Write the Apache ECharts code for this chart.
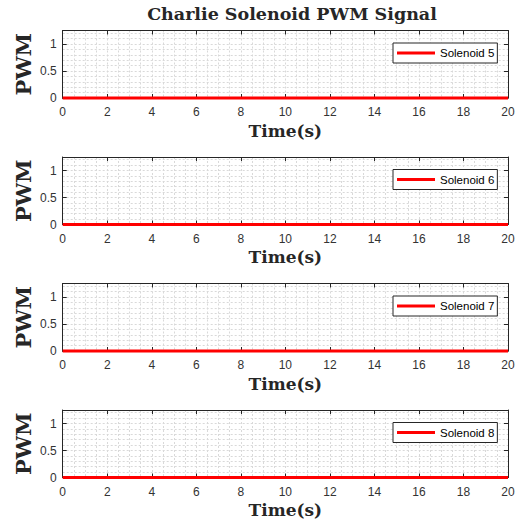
<!DOCTYPE html>
<html>
<head>
<meta charset="utf-8">
<script src="https://cdn.jsdelivr.net/npm/echarts@6/dist/echarts.min.js"></script>
<style>
html,body{margin:0;padding:0;background:#fff;}
#chart{width:519px;height:525px;}
</style>
</head>
<body>
<div id="chart"></div>
<script>
// ---- data ----
const chartTitle = 'Charlie Solenoid PWM Signal';
const xLabel = 'Time(s)';
const yLabel = 'PWM';
const seriesNames = ['Solenoid 5', 'Solenoid 6', 'Solenoid 7', 'Solenoid 8'];
const time = [0, 20];
const solenoid5 = [0, 0];
const solenoid6 = [0, 0];
const solenoid7 = [0, 0];
const solenoid8 = [0, 0];
const seriesValues = [solenoid5, solenoid6, solenoid7, solenoid8];
const xTicks = [0, 2, 4, 6, 8, 10, 12, 14, 16, 18, 20];
const yTicks = [0, 0.5, 1];

// ---- layout / style ----
const panelTops = [30.5, 157, 283.5, 410];
const panelH = 67.5;
const gLeft = 62.7, gRight = 11;
const axisColor = '#262626';
const tickColor = '#333333';
const gridColor = '#d9d9d9';
const serifFont = 'DejaVu Serif';
const sansFont = 'Liberation Sans';

const grids = [], xAxes = [], yAxes = [], series = [], legends = [];
panelTops.forEach((top, i) => {
  grids.push({left: gLeft, right: gRight, top: top, height: panelH});
  const xBase = xAxes.length, yBase = yAxes.length;
  xAxes.push({
    type: 'value', gridIndex: i, position: 'bottom', min: xTicks[0], max: xTicks[xTicks.length-1], interval: 2,
    axisLine: {show: true, onZero: false, lineStyle: {color: axisColor, width: 1}},
    axisTick: {show: true, inside: true, length: 4, lineStyle: {color: axisColor}},
    axisLabel: {color: tickColor, fontFamily: sansFont, fontSize: 12, margin: 8},
    splitLine: {show: false},
    name: xLabel, nameLocation: 'middle', nameGap: 24,
    nameTextStyle: {fontFamily: serifFont, fontWeight: 'bold', fontSize: 17, color: axisColor}
  });
  xAxes.push({
    type: 'value', gridIndex: i, position: 'top', min: 0, max: 20, interval: 2,
    axisLine: {show: true, onZero: false, lineStyle: {color: axisColor, width: 1}},
    axisTick: {show: true, inside: true, length: 4, lineStyle: {color: axisColor}},
    axisLabel: {show: false}, splitLine: {show: false}
  });
  xAxes.push({
    type: 'value', gridIndex: i, min: 0, max: 20, interval: 0.5,
    axisLine: {show: false}, axisTick: {show: false}, axisLabel: {show: false},
    splitLine: {show: true, lineStyle: {color: gridColor, type: [2, 2], width: 1}}
  });
  yAxes.push({
    type: 'value', gridIndex: i, position: 'left', min: 0, max: 1.25, interval: 0.5,
    axisLine: {show: true, onZero: false, lineStyle: {color: axisColor, width: 1}},
    axisTick: {show: true, inside: true, length: 4, lineStyle: {color: axisColor}},
    axisLabel: {color: tickColor, fontFamily: sansFont, fontSize: 12, margin: 6, showMaxLabel: false,
      formatter: v => (yTicks.indexOf(v) >= 0 ? String(v) : '')},
    splitLine: {show: false},
    name: yLabel, nameLocation: 'middle', nameGap: 29, nameRotate: 90, nameMoveOverlap: false,
    nameTextStyle: {fontFamily: serifFont, fontWeight: 'bold', fontSize: 21, color: axisColor}
  });
  yAxes.push({
    type: 'value', gridIndex: i, position: 'right', min: 0, max: 1.25, interval: 0.5,
    axisLine: {show: true, onZero: false, lineStyle: {color: axisColor, width: 1}},
    axisTick: {show: true, inside: true, length: 4, lineStyle: {color: axisColor}},
    axisLabel: {show: false}, splitLine: {show: false}
  });
  yAxes.push({
    type: 'value', gridIndex: i, min: 0, max: 1.25, interval: 0.1,
    axisLine: {show: false}, axisTick: {show: false}, axisLabel: {show: false},
    splitLine: {show: true, lineStyle: {color: gridColor, type: [2, 2], width: 1}}
  });
  series.push({
    name: seriesNames[i], type: 'line', xAxisIndex: xBase, yAxisIndex: yBase,
    data: time.map((t, k) => [t, seriesValues[i][k]]),
    showSymbol: false, symbol: 'none', clip: false, z: 10,
    lineStyle: {color: '#ff0000', width: 3}, itemStyle: {color: '#ff0000'}
  });
  legends.push({
    data: [seriesNames[i]], left: 393, top: top + 12.5, orient: 'horizontal',
    icon: 'rect', itemWidth: 38, itemHeight: 3,
    padding: [4, 3, 4, 4], borderColor: axisColor, borderWidth: 1, backgroundColor: '#fff',
    textStyle: {fontFamily: sansFont, fontSize: 11.5, color: '#000', lineHeight: 11},
    selectedMode: false, z: 20
  });
});

const chart = echarts.init(document.getElementById('chart'), null, {renderer: 'svg'});
chart.setOption({
  animation: false,
  backgroundColor: '#fff',
  title: {text: chartTitle, left: 287, top: 0, textAlign: 'center',
    textStyle: {fontFamily: serifFont, fontWeight: 'bold', fontSize: 17.5, color: axisColor}},
  grid: grids, xAxis: xAxes, yAxis: yAxes, series: series, legend: legends
});
</script>
</body>
</html>
